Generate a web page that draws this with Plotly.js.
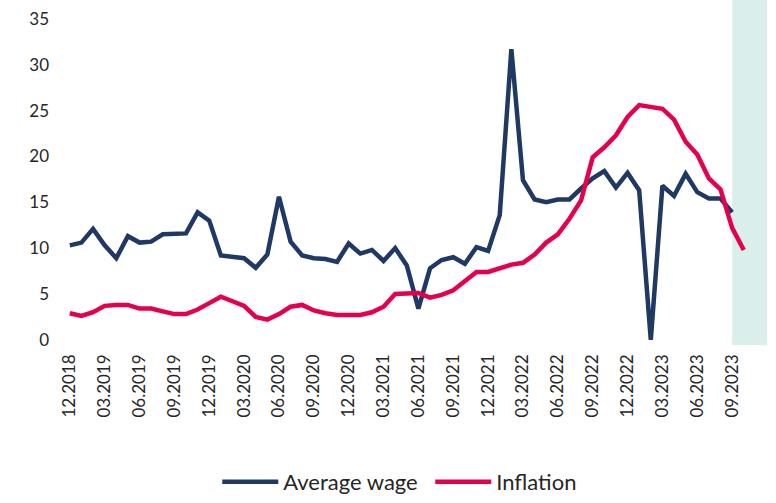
<!DOCTYPE html>
<html>
<head>
<meta charset="utf-8">
<script src="https://cdn.plot.ly/plotly-3.0.1.min.js"></script>
<style>
  html, body { margin: 0; padding: 0; background: #fff; }
  #chart { width: 776px; height: 503px; }
</style>
</head>
<body>
<div id="chart"></div>
<script>
// monthly labels, 12.2018 .. 10.2023
var months = [
  '12.2018',
  '01.2019','02.2019','03.2019','04.2019','05.2019','06.2019','07.2019','08.2019','09.2019','10.2019','11.2019','12.2019',
  '01.2020','02.2020','03.2020','04.2020','05.2020','06.2020','07.2020','08.2020','09.2020','10.2020','11.2020','12.2020',
  '01.2021','02.2021','03.2021','04.2021','05.2021','06.2021','07.2021','08.2021','09.2021','10.2021','11.2021','12.2021',
  '01.2022','02.2022','03.2022','04.2022','05.2022','06.2022','07.2022','08.2022','09.2022','10.2022','11.2022','12.2022',
  '01.2023','02.2023','03.2023','04.2023','05.2023','06.2023','07.2023','08.2023','09.2023','10.2023'
];

var wage = [
  10.3,
  10.6, 12.1, 10.3, 8.9, 11.3, 10.6, 10.7, 11.5, 11.6, 11.6, 13.9, 13.0,
  9.2, 9.0, 8.9, 7.85, 9.3, 15.6, 10.7, 9.2, 8.9, 8.8, 8.5, 10.5,
  9.4, 9.8, 8.6, 10.0, 8.1, 3.4, 7.8, 8.7, 9.0, 8.3, 10.1, 9.7,
  13.6, 31.7, 17.4, 15.3, 15.0, 15.3, 15.3, 16.5, 17.6, 18.4, 16.6, 18.2,
  16.3, 0.0, 16.8, 15.7, 18.1, 16.1, 15.4, 15.4, 13.9, null
];

var inflation = [
  2.9,
  2.6, 3.0, 3.7, 3.8, 3.8, 3.4, 3.4, 3.1, 2.8, 2.8, 3.3, 4.0,
  4.7, 4.2, 3.7, 2.5, 2.2, 2.8, 3.6, 3.8, 3.2, 2.9, 2.7, 2.7,
  2.7, 3.0, 3.6, 5.0, 5.05, 5.1, 4.6, 4.9, 5.4, 6.4, 7.4, 7.4,
  7.8, 8.2, 8.4, 9.3, 10.6, 11.5, 13.2, 15.2, 19.9, 21.0, 22.3, 24.3,
  25.6, 25.4, 25.2, 24.0, 21.6, 20.2, 17.6, 16.4, 12.2, 9.8
];

var font = 'Lato, "Open Sans", sans-serif';

var trace1 = {
  x: months,
  y: wage,
  type: 'scatter',
  mode: 'lines',
  name: 'Average wage',
  line: { color: '#1f3864', width: 4.5 },
  connectgaps: false
};

var trace2 = {
  x: months,
  y: inflation,
  type: 'scatter',
  mode: 'lines',
  name: 'Inflation',
  line: { color: '#e6004c', width: 4.5 }
};

var layout = {
  width: 776,
  height: 503,
  margin: { l: 64, r: 9, t: 0, b: 156 },
  paper_bgcolor: '#fff',
  plot_bgcolor: '#fff',
  showlegend: true,
  legend: {
    orientation: 'h',
    x: 0.521,
    xanchor: 'center',
    y: -0.398,
    yanchor: 'middle',
    font: { family: font, size: 22, color: '#262626' },
    itemwidth: 56,
    entrywidth: 142
  },
  xaxis: {
    type: 'category',
    range: [-0.5, 60],
    tickmode: 'linear',
    tick0: 0,
    dtick: 3,
    tickangle: -90,
    showgrid: false,
    zeroline: false,
    showline: false,
    ticks: '',
    ticklabelstandoff: 5,
    tickfont: { family: font, size: 17, color: '#262626' }
  },
  yaxis: {
    range: [-0.57, 37.06],
    tickmode: 'linear',
    tick0: 0,
    dtick: 5,
    showgrid: false,
    zeroline: false,
    showline: false,
    ticks: '',
    ticklabelstandoff: 14,
    tickfont: { family: font, size: 17, color: '#262626' }
  },
  shapes: [{
    type: 'rect',
    xref: 'x',
    yref: 'paper',
    x0: 57,
    x1: 60,
    y0: 0,
    y1: 1,
    fillcolor: '#daeeec',
    line: { width: 0 },
    layer: 'below'
  }]
};

Plotly.newPlot('chart', [trace1, trace2], layout, { displayModeBar: false, staticPlot: true });
</script>
</body>
</html>
